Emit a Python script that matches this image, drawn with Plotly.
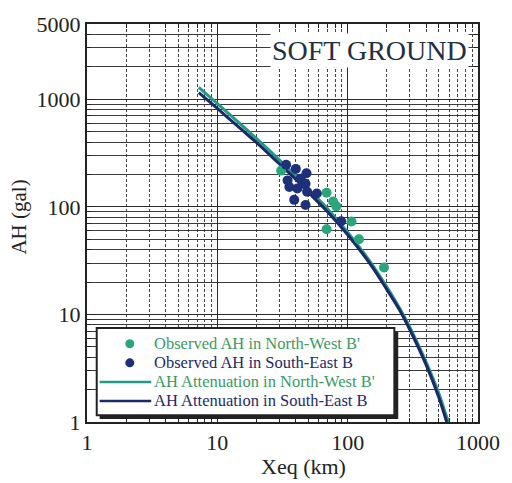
import plotly.graph_objects as go

nw_x = [30.9, 68.9, 77.3, 81.8, 68.9, 107, 122, 190]
nw_y = [217, 135, 112, 101, 61.8, 73, 50, 27.3]

se_x = [33.7, 40.0, 48.3, 34.6, 43.6, 47.5, 41.1, 48.8, 38.9, 47.5, 58.0, 35.7, 89.1]
se_y = [246, 225, 205, 176, 182, 164, 148, 138, 116, 104, 133, 153, 73.5]

# Attenuation curves
nw_cx = [7.2, 10, 15, 20, 30, 40, 50, 70, 100, 150, 200, 250, 300, 400, 500, 570, 595]
nw_cy = [1290, 910, 590, 430, 272, 194, 146, 96, 58, 30.5, 18, 11.5, 7.6, 3.6, 1.85, 1.15, 1.0]

se_cx = [7.2, 10, 15, 20, 30, 40, 50, 70, 100, 150, 200, 250, 300, 400, 500, 575]
se_cy = [1150, 820, 535, 395, 250, 180, 136, 90, 55, 29, 17, 11, 7.2, 3.4, 1.7, 1.0]

x_ticks = [1, 10, 100, 1000]
x_ticklabels = ["1", "10", "100", "1000"]
y_ticks = [1, 10, 100, 1000, 5000]
y_ticklabels = ["1", "10", "100", "1000", "5000"]

legend_labels = [
    "Observed AH in North-West B'",
    "Observed AH in South-East B",
    "AH Attenuation in North-West B'",
    "AH Attenuation in South-East B",
]

GREEN = "#2ba67a"
GREEN_TXT = "#3a9a62"
GREEN_LINE = "#249a86"
NAVY = "#1e2f7c"
NAVY_TXT = "#1e2a6a"
NAVY_LINE = "#1b2a66"
SERIF = "Liberation Serif"

W, H = 512, 483
ML, MR, MT, MB = 87, 23, 15, 61
PW, PH = W - ML - MR, H - MT - MB


def px(xp):
    return (xp - ML) / PW


def py(yp):
    return (H - MB - yp) / PH


fig = go.Figure()

fig.add_trace(go.Scatter(
    x=nw_cx, y=nw_cy, mode="lines", line=dict(color=GREEN_LINE, width=3, shape="spline"),
    name=legend_labels[2], showlegend=False))
fig.add_trace(go.Scatter(
    x=se_cx, y=se_cy, mode="lines", line=dict(color=NAVY_LINE, width=3, shape="spline"),
    name=legend_labels[3], showlegend=False))
fig.add_trace(go.Scatter(
    x=nw_x, y=nw_y, mode="markers", marker=dict(color=GREEN, size=10),
    name=legend_labels[0], showlegend=False))
fig.add_trace(go.Scatter(
    x=se_x, y=se_y, mode="markers", marker=dict(color=NAVY, size=10),
    name=legend_labels[1], showlegend=False))

minor_x = [m * 10 ** d for d in range(0, 3) for m in range(2, 10)]
minor_y = [m * 10 ** d for d in range(0, 4) for m in range(2, 10) if m * 10 ** d < 5000]

axis_common = dict(
    type="log", showline=True, linecolor="#222", linewidth=2, mirror="allticks",
    ticks="inside", ticklen=7, tickcolor="#222", tickwidth=1,
    showgrid=True, gridwidth=1,
    tickfont=dict(family=SERIF, size=22, color="#222"),
    zeroline=False,
)

fig.update_xaxes(
    **axis_common, range=[0, 3], tickmode="array", tickvals=x_ticks, ticktext=x_ticklabels,
    gridcolor="#2a2a2a",
    minor=dict(tickmode="array", tickvals=minor_x, ticks="inside", ticklen=4, tickcolor="#222",
               showgrid=True, gridcolor="#444", griddash="3px,2px", gridwidth=1),
)
fig.update_yaxes(
    **axis_common, range=[0, 3.69897], tickmode="array", tickvals=y_ticks, ticktext=y_ticklabels,
    gridcolor="#2a2a2a",
    minor=dict(tickmode="array", tickvals=minor_y, ticks="inside", ticklen=4, tickcolor="#222",
               showgrid=True, gridcolor="#3a3a3a", gridwidth=1),
)

# Axis titles
fig.add_annotation(x=px(310), y=py(467), xref="paper", yref="paper",
                   xanchor="center", yanchor="middle", text="Xeq (km)", showarrow=False,
                   font=dict(family=SERIF, size=22, color="#222"))
fig.add_annotation(x=px(17), y=py(212), xref="paper", yref="paper",
                   xanchor="center", yanchor="middle", text="AH (gal)", showarrow=False,
                   textangle=-90, font=dict(family=SERIF, size=21, color="#222"))

# Title box
fig.add_annotation(
    x=px(377), y=py(42), xref="paper", yref="paper", xanchor="center", yanchor="middle",
    text="SOFT GROUND", showarrow=False, bgcolor="white", borderpad=1,
    font=dict(family=SERIF, size=28, color="#1f3040"),
)

# Manual legend (box with shadow)
shapes = []
shapes.append(dict(type="rect", xref="paper", yref="paper",
                   x0=px(100), x1=px(407), y0=py(419), y1=py(330),
                   fillcolor="#222", line=dict(width=0)))
shapes.append(dict(type="rect", xref="paper", yref="paper",
                   x0=px(97), x1=px(403), y0=py(415), y1=py(326),
                   fillcolor="white", line=dict(color="#222", width=2)))
rows = [342, 361.5, 381, 400.5]
for r, c in zip(rows[:2], [GREEN, NAVY]):
    shapes.append(dict(type="circle", xref="paper", yref="paper",
                       xsizemode="pixel", ysizemode="pixel",
                       xanchor=px(131), yanchor=py(r), x0=-4.5, x1=4.5, y0=-4.5, y1=4.5,
                       fillcolor=c, line=dict(width=0)))
for r, c in zip(rows[2:], [GREEN_LINE, NAVY_LINE]):
    shapes.append(dict(type="line", xref="paper", yref="paper",
                       x0=px(100), x1=px(153), y0=py(r), y1=py(r),
                       line=dict(color=c, width=2.5)))
for r, lab, c in zip(rows, legend_labels, [GREEN_TXT, NAVY_TXT, GREEN_TXT, NAVY_TXT]):
    fig.add_annotation(x=px(155), y=py(r), xref="paper", yref="paper",
                       xanchor="left", yanchor="middle", text=lab, showarrow=False,
                       borderpad=0, font=dict(family=SERIF, size=16.5, color=c))

fig.update_layout(
    width=W, height=H,
    margin=dict(l=ML, r=MR, t=MT, b=MB),
    paper_bgcolor="white", plot_bgcolor="white",
    font=dict(family=SERIF, color="#222"),
    showlegend=False,
    shapes=shapes,
)

fig.write_html("out.html")
